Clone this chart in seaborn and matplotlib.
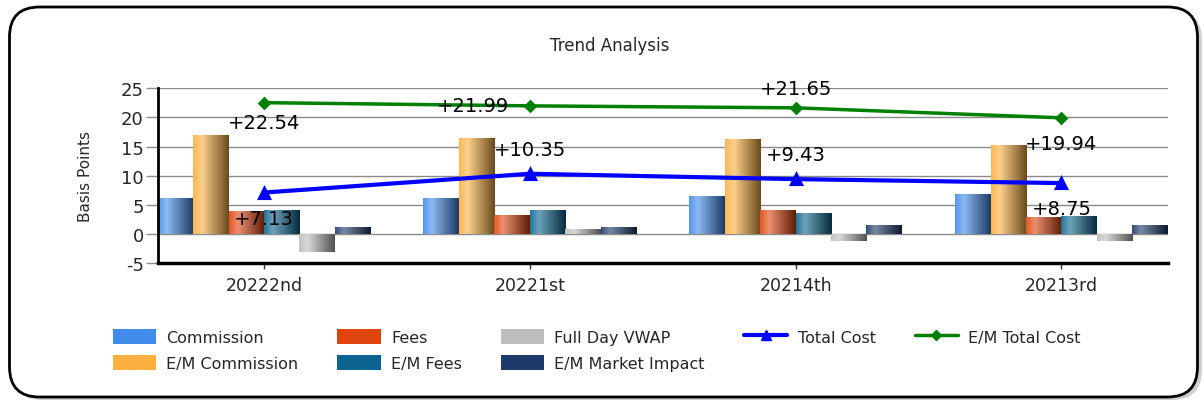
import numpy as np
import pandas as pd
import matplotlib
matplotlib.use("Agg")
import matplotlib.pyplot as plt
import seaborn as sns
from matplotlib.colors import to_rgb
from matplotlib.patches import Patch, FancyBboxPatch
from matplotlib.lines import Line2D
from matplotlib.transforms import IdentityTransform

# ---------------- data ----------------
periods = ["20222nd", "20221st", "20214th", "20213rd"]
commission = [6.2, 6.15, 6.5, 6.8]
em_commission = [17.0, 16.55, 16.3, 15.2]
fees = [3.9, 3.3, 4.15, 2.9]
em_fees = [4.2, 4.1, 3.7, 3.1]
full_day_vwap = [-3.1, 0.95, -1.2, -1.1]
em_market_impact = [1.2, 1.3, 1.6, 1.65]
total_cost = [7.13, 10.35, 9.43, 8.75]
em_total_cost = [22.54, 21.99, 21.65, 19.94]

bar_series = ["Commission", "E/M Commission", "Fees", "E/M Fees",
              "Full Day VWAP", "E/M Market Impact"]
bar_values = [commission, em_commission, fees, em_fees, full_day_vwap, em_market_impact]
bar_colors = ["#418BEA", "#FBB040", "#E0440E", "#0B6590", "#BDBDBD", "#1E3A6A"]

# ---------------- style ----------------
sns.set_style("white")
plt.rcParams["font.family"] = ["DejaVu Sans"]
plt.rcParams["axes.unicode_minus"] = False

fig = plt.figure(figsize=(12.04, 4.02), dpi=100)
fig.patch.set_facecolor("white")

# rounded frame with shadow
shadow = FancyBboxPatch((12, 1), 1190, 390, boxstyle="round,pad=0,rounding_size=30",
                        transform=IdentityTransform(), facecolor="#d0d0d0",
                        edgecolor="none", zorder=-3)
frame = FancyBboxPatch((9.5, 4), 1188, 390, boxstyle="round,pad=0,rounding_size=30",
                       transform=IdentityTransform(), facecolor="white",
                       edgecolor="black", linewidth=2, zorder=-2)
fig.patches.extend([shadow, frame])

ax = fig.add_axes([157.7 / 1204, 1 - 264.3 / 402, 1010 / 1204, 175 / 402])
ax.set_facecolor("none")

rows = []
for name, vals in zip(bar_series, bar_values):
    for p, v in zip(periods, vals):
        rows.append({"period": p, "series": name, "value": v})
df = pd.DataFrame(rows)

sns.barplot(data=df, x="period", y="value", hue="series", order=periods,
            hue_order=bar_series, palette=dict(zip(bar_series, bar_colors)),
            saturation=1, width=0.8, errorbar=None, linewidth=0, legend=False,
            ax=ax, zorder=2)

# gradient shading on bars
def gradient_for(color, n=128):
    base = np.array(to_rgb(color))
    out = np.zeros((1, n, 3))
    for i, t in enumerate(np.linspace(0, 1, n)):
        if t <= 0.25:
            w = 0.1 + 0.3 * t / 0.25
            c = base + (1 - base) * w
        else:
            s = (t - 0.25) / 0.75
            light = base + (1 - base) * 0.4
            dark = base * 0.42
            c = light * (1 - s) + dark * s
        out[0, i] = c
    return np.clip(out, 0, 1)

for patch in list(ax.patches):
    x0, y0 = patch.get_x(), patch.get_y()
    w, h = patch.get_width(), patch.get_height()
    if w == 0 or h == 0:
        continue
    col = patch.get_facecolor()
    im = ax.imshow(gradient_for(col[:3]), extent=[x0, x0 + w, min(y0, y0 + h), max(y0, y0 + h)],
                   aspect="auto", zorder=2.5, interpolation="bilinear")
    im.set_clip_path(patch)

# lines
sns.pointplot(x=periods, y=total_cost, order=periods, color="#0000FF", marker="^",
              markersize=7, linewidth=3, errorbar=None, ax=ax, zorder=5)
sns.pointplot(x=periods, y=em_total_cost, order=periods, color="#008000", marker="D",
              markersize=5, linewidth=2.5, errorbar=None, ax=ax, zorder=5)

# value labels
green_off = [(0, -20), (-57, 0), (0, 19.5), (0, -26)]
blue_off = [(0, -26), (0, 24.5), (0, 25), (0, -25)]
for i, (v, off) in enumerate(zip(em_total_cost, green_off)):
    ax.annotate(f"+{v:.2f}", (i, v), xytext=off, textcoords="offset pixels",
                ha="center", va="center", fontsize=14, color="black", zorder=10)
for i, (v, off) in enumerate(zip(total_cost, blue_off)):
    ax.annotate(f"+{v:.2f}", (i, v), xytext=off, textcoords="offset pixels",
                ha="center", va="center", fontsize=14, color="black", zorder=10)

# axes styling
ax.set_xlim(-0.4, 3.4)
ax.set_ylim(-5, 25)
ax.set_yticks([-5, 0, 5, 10, 15, 20, 25])
ax.set_xticks(range(len(periods)))
ax.set_xticklabels(periods)
ax.set_xlabel("")
ax.set_ylabel("")
ax.set_axisbelow(True)
ax.yaxis.grid(True, color="#8a8a8a", linewidth=1, zorder=0)
ax.xaxis.grid(False)
for s in ["top", "right"]:
    ax.spines[s].set_visible(False)
ax.spines["left"].set_linewidth(2)
ax.spines["left"].set_color("black")
ax.spines["bottom"].set_linewidth(2.5)
ax.spines["bottom"].set_color("black")
ax.tick_params(axis="y", length=9, width=1, color="#8a8a8a", pad=1, labelsize=13,
               left=True)
ax.tick_params(axis="x", length=4, width=1, color="#333333", pad=5, labelsize=12.5,
               bottom=True)

fig.text(610 / 1204, 1 - 46 / 402, "Trend Analysis", ha="center", va="center", fontsize=12)
fig.text(86 / 1204, 1 - 177 / 402, "Basis Points", ha="center", va="center",
         rotation=90, fontsize=11)

handles = [Patch(facecolor=c, edgecolor="none") for c in bar_colors]
handles += [Line2D([], [], color="#0000FF", lw=3, marker="^", markersize=7),
            Line2D([], [], color="#008000", lw=2.5, marker="D", markersize=5)]
labels = bar_series + ["Total Cost", "E/M Total Cost"]
fig.legend(handles, labels, loc="upper left", bbox_to_anchor=(112.7 / 1204, 1 - 330 / 402),
           ncol=5, frameon=False, fontsize=11.5, handlelength=2.7, handleheight=1.07,
           handletextpad=0.65, columnspacing=2.45, labelspacing=0.62, borderpad=0,
           borderaxespad=0)

fig.savefig("out.png", dpi=100)
